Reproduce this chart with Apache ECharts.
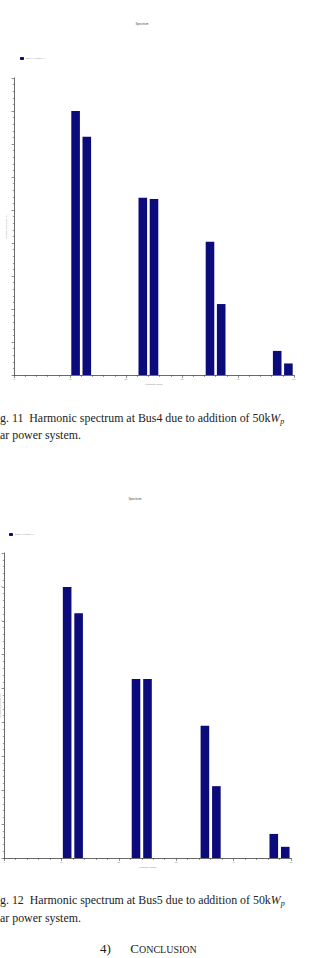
<!DOCTYPE html>
<html>
<head>
    <meta charset="utf-8">
    <title>Spectrum</title>
    <script src="https://cdn.jsdelivr.net/npm/echarts@6/dist/echarts.min.js"></script>
    <style>
        html, body { margin: 0; padding: 0; background: #fff; }
        #main { width: 309px; height: 958px; }
    </style>
</head>
<body>
    <div id="main"></div>
    <script type="text/javascript">
        // harmonic orders and magnitudes
        var orders = [11, 13, 23, 25, 35, 37, 47, 49];
        var bus4 = [8.0, 7.22, 5.37, 5.33, 4.04, 2.15, 0.73, 0.35];
        var bus5 = [8.0, 7.22, 5.28, 5.28, 3.9, 2.12, 0.71, 0.33];
        var xTicks = [0, 10, 20, 30, 40, 50];
        var yTicks = [0, 1, 2, 3, 4, 5, 6, 7, 8, 9];

        var barColor = '#0b0b7c';
        var serif = '"Liberation Serif", "DejaVu Serif", serif';

        function pairs(vals) {
            return orders.map(function (o, i) { return [o, vals[i]]; });
        }

        function xAx(idx) {
            return {
                gridIndex: idx, type: 'value',
                min: xTicks[0], max: xTicks[xTicks.length - 1], interval: 10,
                name: 'Harmonic Order', nameLocation: 'middle', nameGap: 8,
                nameTextStyle: { fontSize: 2.5, color: '#888' },
                axisLine: { lineStyle: { color: '#444', width: 0.8 } },
                axisTick: { length: 3, lineStyle: { color: '#444', width: 0.6 } },
                minorTick: { show: true, splitNumber: 5, length: 2, lineStyle: { color: '#444', width: 0.5 } },
                axisLabel: { fontSize: 2.5, color: '#777', margin: 3 },
                splitLine: { show: false }
            };
        }
        function yAx(idx, gap) {
            return {
                gridIndex: idx, type: 'value',
                min: yTicks[0], max: yTicks[yTicks.length - 1], interval: 1,
                name: 'Voltage Harmonic (%)', nameLocation: 'middle', nameGap: gap,
                nameRotate: 90, nameMoveOverlap: false,
                nameTextStyle: { fontSize: 2.5, color: '#999' },
                axisLine: { show: true, lineStyle: { color: '#444', width: 0.8 } },
                axisTick: { show: true, length: 2, lineStyle: { color: '#444', width: 0.6 } },
                minorTick: { show: true, splitNumber: 5, length: 1.2, lineStyle: { color: '#444', width: 0.5 } },
                axisLabel: { fontSize: 2.5, color: '#777', margin: 1.5 },
                splitLine: { show: false }
            };
        }

        var capRich = {
            i: { fontFamily: serif, fontSize: 11.9, fontStyle: 'italic', color: '#222' },
            sub: { fontFamily: serif, fontSize: 8, fontStyle: 'italic', color: '#222', padding: [6, 0, 0, 0] }
        };
        function caption(y, text) {
            return {
                type: 'text', left: 0, top: y,
                style: { text: text, fontFamily: serif, fontSize: 11.9, fill: '#222', rich: capRich }
            };
        }

        var myChart = echarts.init(document.getElementById('main'), null, { renderer: 'svg' });
        myChart.setOption({
            animation: false,
            backgroundColor: '#fff',
            title: [
                { text: 'Spectrum', left: 137, top: 17, textAlign: 'center',
                  textStyle: { fontSize: 3, color: '#444', fontWeight: 'normal' } },
                { text: 'Spectrum', left: 130, top: 492, textAlign: 'center',
                  textStyle: { fontSize: 3, color: '#444', fontWeight: 'normal' } }
            ],
            legend: [
                { data: ['Bus4 (Voltage) %'], left: 15, top: 52, itemWidth: 4, itemHeight: 3, itemGap: 1,
                  textStyle: { fontSize: 2.5, color: '#999', padding: [0, 0, 0, -3] } },
                { data: ['Bus5 (Voltage) %'], left: 4, top: 528, itemWidth: 4, itemHeight: 3, itemGap: 1,
                  textStyle: { fontSize: 2.5, color: '#999', padding: [0, 0, 0, -3] } }
            ],
            grid: [
                { left: 14, right: 15, top: 78, height: 297, outerBoundsMode: 'none', containLabel: false },
                { left: 4, right: 18, top: 553, height: 305, outerBoundsMode: 'none', containLabel: false }
            ],
            xAxis: [xAx(0), xAx(1)],
            yAxis: [yAx(0, 6), yAx(1, 2.5)],
            series: [
                { name: 'Bus4 (Voltage) %', type: 'bar', xAxisIndex: 0, yAxisIndex: 0,
                  barWidth: 8.6, itemStyle: { color: barColor }, data: pairs(bus4) },
                { name: 'Bus5 (Voltage) %', type: 'bar', xAxisIndex: 1, yAxisIndex: 1,
                  barWidth: 8.6, itemStyle: { color: barColor }, data: pairs(bus5) }
            ],
            graphic: [
                caption(412, 'g. 11  Harmonic spectrum at Bus4 due to addition of 50k{i|W}{sub|p}'),
                caption(429, 'ar power system.'),
                caption(894, 'g. 12  Harmonic spectrum at Bus5 due to addition of 50k{i|W}{sub|p}'),
                caption(912, 'ar power system.'),
                { type: 'text', left: 100, top: 942,
                  style: { text: '4)      C{sc|ONCLUSION}', fontFamily: serif, fontSize: 13, fill: '#222',
                           rich: { sc: { fontFamily: serif, fontSize: 10, color: '#222', padding: [2, 0, 0, 0] } } } }
            ]
        });
    </script>
</body>
</html>
